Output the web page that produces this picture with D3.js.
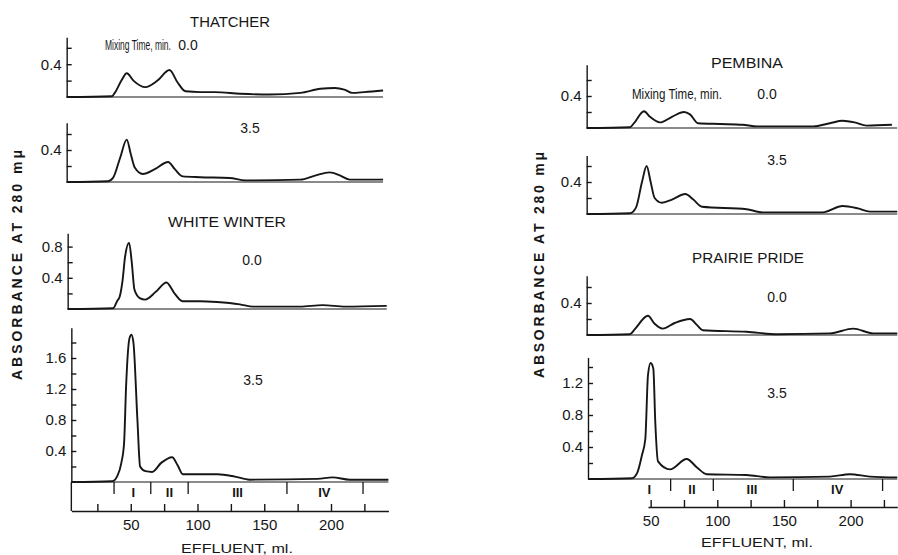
<!DOCTYPE html>
<html>
<head>
<meta charset="utf-8">
<script src="https://cdn.jsdelivr.net/npm/d3@7/dist/d3.min.js"></script>
<style>
  body { margin: 0; background: #fff; }
  svg text { font-family: "Liberation Sans", Arial, sans-serif; fill: #161616; }
</style>
</head>
<body>
<div id="chart"></div>
<script>

// absorbance curves: [effluent ml, absorbance]
var thatcher00 = [[5,0],[39,0.01],[41,0.05],[46,0.2],[50,0.29],[55,0.2],[64,0.12],[73,0.2],[82,0.33],
    [88,0.18],[94,0.07],[105,0.06],[116,0.06],[135,0.04],[157,0.03],[180,0.05],[195,0.1],[206,0.11],
    [213,0.09],[219,0.05],[228,0.06],[242,0.08]];
var thatcher35 = [[5,0],[36,0.01],[40,0.06],[45,0.3],[50,0.53],[53,0.35],[56,0.18],[62,0.1],[71,0.16],
    [81,0.25],[86,0.16],[92,0.07],[105,0.06],[127,0.05],[139,0.02],[180,0.03],[191,0.08],[202,0.12],
    [210,0.08],[217,0.03],[242,0.03]];
var whiteWinter00 = [[5,0],[39,0.01],[42,0.1],[44,0.16],[46,0.35],[48,0.67],[51,0.85],[53,0.6],[55,0.25],
    [59,0.14],[63,0.12],[71,0.22],[79,0.34],[85,0.2],[91,0.1],[104,0.1],[117,0.09],[134,0.06],[144,0.03],
    [179,0.03],[196,0.05],[213,0.03],[244,0.04]];
var whiteWinter35 = [[5.5,0],[36,0.01],[40,0.08],[43,0.25],[45,0.5],[46.5,1.23],[49,1.85],[50.5,1.9],[52,1.8],
    [55,0.8],[57,0.2],[61,0.14],[66,0.13],[73,0.25],[81,0.32],[85,0.22],[89,0.1],[115,0.1],[128,0.07],
    [139,0.03],[190,0.04],[201,0.06],[214,0.03],[243,0.03]];
var pembina00 = [[2,0],[34.5,0.01],[37.5,0.06],[45,0.21],[49.5,0.14],[57,0.07],[66,0.14],[75,0.2],[79.5,0.17],
    [85.5,0.06],[102,0.05],[119,0.04],[130,0.02],[172,0.02],[184.5,0.06],[194,0.09],[203,0.07],[212,0.03],
    [231,0.04]];
var pembina35 = [[2,0],[34.5,0.01],[39,0.08],[43.5,0.4],[47,0.6],[50,0.4],[53,0.2],[58.5,0.14],[66,0.18],
    [76,0.25],[82,0.18],[88.5,0.09],[122,0.06],[134,0.02],[179,0.02],[194,0.1],[205.5,0.07],[214.5,0.03],
    [235,0.03]];
var prairie00 = [[2,0],[34.5,0.01],[38,0.07],[48,0.24],[53,0.14],[59,0.08],[68,0.15],[79.5,0.2],[85,0.12],
    [89,0.06],[122,0.04],[145,0.01],[184.5,0.02],[202,0.08],[217,0.02],[235,0.02]];
var prairie35 = [[3,0],[36,0.01],[40,0.08],[43.5,0.3],[46,0.5],[48,1.3],[50,1.45],[52,1.38],[53.5,0.7],
    [55.5,0.22],[64.5,0.12],[77,0.25],[85,0.14],[92,0.06],[122,0.05],[139.5,0.02],[184.5,0.03],
    [199.5,0.06],[214.5,0.03],[235,0.02]];

// axis ticks
var effluentTicksLeft = [25, 50, 75, 100, 125, 150, 175, 200, 225];
var effluentTicksRight = [50, 75, 100, 125, 150, 175, 200, 225];
var effluentLabels = [50, 100, 150, 200];

// fraction cuts and labels
var fractionNames = ["I", "II", "III", "IV"];
var fractionCutsLeft = [37.5, 65, 93, 167, 224];
var fractionMidsLeft = [52, 79, 130, 195];
var fractionCutsRight = [65, 97, 157, 224];
var fractionMidsRight = [49, 81, 126, 190];

var W = 898, H = 555;

var svg = d3.select("#chart").append("svg")
    .attr("width", W)
    .attr("height", H);

svg.append("rect").attr("width", W).attr("height", H).attr("fill", "#fff");

// x scales, ml -> px
var xLeft = d3.scaleLinear().domain([0, 250]).range([64, 64 + 1.335 * 250]);
var xRight = d3.scaleLinear().domain([0, 250]).range([584, 584 + 1.333 * 250]);

var ink = "#161616";

// each panel: curve, which x scale, horizontal shift, baseline, px per unit, top of axis
var panels = [
    { data: thatcher00, x: xLeft, dx: -4, base: 97, ppu: 82, top: 0.73, major: [0.4], minor: [0.2, 0.6], from: 5, to: 242 },
    { data: thatcher35, x: xLeft, dx: -4, base: 182, ppu: 80, top: 0.74, major: [0.4], minor: [0.2, 0.6], from: 5, to: 242 },
    { data: whiteWinter00, x: xLeft, dx: -3, base: 309, ppu: 78, top: 0.97, major: [0.4, 0.8], minor: [0.2, 0.6], from: 5, to: 244 },
    { data: whiteWinter35, x: xLeft, dx: 0, base: 482, ppu: 77.5, top: 1.99, major: [0.4, 0.8, 1.2, 1.6], minor: [0.2, 0.6, 1.0, 1.4, 1.8], from: 5.5, to: 243 },
    { data: pembina00, x: xRight, dx: 0, base: 128, ppu: 80, top: 0.79, major: [0.4], minor: [0.2, 0.6], from: 2, to: 235 },
    { data: pembina35, x: xRight, dx: 0, base: 214, ppu: 80, top: 0.73, major: [0.4], minor: [0.2, 0.6], from: 2, to: 235 },
    { data: prairie00, x: xRight, dx: 0, base: 335, ppu: 80, top: 0.74, major: [0.4], minor: [0.2, 0.6], from: 2, to: 235 },
    { data: prairie35, x: xRight, dx: 0, base: 479, ppu: 80, top: 1.52, major: [0.4, 0.8, 1.2], minor: [0.2, 0.6, 1.0, 1.4], from: 3, to: 235 }
];

panels.forEach(function(p) {
    var g = svg.append("g").attr("transform", "translate(" + p.dx + ",0)");
    var x = p.x;
    var y = d3.scaleLinear()
        .domain([0, p.top])
        .range([p.base, p.base - p.top * p.ppu]);

    // baseline under the trace
    g.append("line")
        .attr("x1", x(p.from)).attr("x2", x(p.to))
        .attr("y1", y(0)).attr("y2", y(0))
        .attr("stroke", ink).attr("stroke-width", 1.2);

    var yAxis = d3.axisLeft(y)
        .tickValues(p.major.concat(p.minor))
        .tickSize(-5)
        .tickSizeOuter(0)
        .tickPadding(5)
        .tickFormat(function(d) { return p.major.indexOf(d) >= 0 ? d3.format(".1f")(d) : ""; });

    var ya = g.append("g")
        .attr("transform", "translate(" + x(p.from) + ",0)")
        .call(yAxis);
    ya.selectAll("path, line").attr("stroke", ink).attr("stroke-width", 1.4);
    ya.selectAll("text")
        .attr("font-size", 15)
        .attr("font-family", "Liberation Sans, Arial, sans-serif")
        .attr("fill", ink);

    var line = d3.line()
        .x(function(d) { return x(d[0]); })
        .y(function(d) { return y(d[1]); })
        .curve(d3.curveMonotoneX);

    g.append("path")
        .datum(p.data)
        .attr("d", line)
        .attr("fill", "none")
        .attr("stroke", ink)
        .attr("stroke-width", 1.9)
        .attr("stroke-linejoin", "round");
});

// effluent axes
function effluentAxis(x, ticks, y, from, to) {
    var sub = x.copy().domain([from, to]).range([x(from), x(to)]);
    var axis = d3.axisBottom(sub)
        .tickValues(ticks)
        .tickSize(-7)
        .tickSizeOuter(0)
        .tickPadding(8)
        .tickFormat(function(d) { return effluentLabels.indexOf(d) >= 0 ? d : ""; });
    var ga = svg.append("g")
        .attr("transform", "translate(0," + y + ")")
        .call(axis);
    ga.selectAll("path, line").attr("stroke", ink).attr("stroke-width", 1.4);
    ga.selectAll("text")
        .attr("font-size", 15)
        .attr("font-family", "Liberation Sans, Arial, sans-serif")
        .attr("fill", ink);
    return ga;
}

effluentAxis(xLeft, effluentTicksLeft, 511, 5.5, 243);
effluentAxis(xRight, effluentTicksRight, 507, 48, 235);

// left vertical bar joining baseline and effluent axis
svg.append("line")
    .attr("x1", xLeft(5.5)).attr("x2", xLeft(5.5))
    .attr("y1", 482).attr("y2", 511)
    .attr("stroke", ink).attr("stroke-width", 1.4);

// fraction marks
function fractions(x, cuts, mids, base, len, labelY) {
    svg.selectAll(null)
        .data(cuts)
        .enter().append("line")
        .attr("x1", function(d) { return x(d); })
        .attr("x2", function(d) { return x(d); })
        .attr("y1", base).attr("y2", base + len)
        .attr("stroke", ink).attr("stroke-width", 1.3);
    svg.selectAll(null)
        .data(mids)
        .enter().append("text")
        .attr("x", function(d) { return x(d); })
        .attr("y", labelY)
        .attr("text-anchor", "middle")
        .attr("font-size", 13)
        .attr("font-weight", "bold")
        .text(function(d, i) { return fractionNames[i]; });
}
fractions(xLeft, fractionCutsLeft, fractionMidsLeft, 482, 12, 497);
fractions(xRight, fractionCutsRight, fractionMidsRight, 479, 12, 494);

// text labels; len squeezes/stretches the text horizontally to that width
function label(txt, x, y, size, len, anchor, family) {
    var t = svg.append("text")
        .attr("font-size", size)
        .attr("text-anchor", anchor || "middle")
        .text(txt);
    if (family) t.style("font-family", family);
    var sx = 1;
    if (len) sx = len / t.node().getComputedTextLength();
    t.attr("transform", "translate(" + x + "," + y + ") scale(" + sx + ",1)");
    return t;
}

var narrow = "'Liberation Sans Narrow', 'Arial Narrow', 'Liberation Sans', Arial, sans-serif";

label("THATCHER", 230, 27, 14, 80);
label("Mixing Time, min.", 105, 50, 14, 66, "start", narrow);
label("0.0", 188, 50, 14);
label("3.5", 250, 133, 14);
label("WHITE WINTER", 227, 227, 14, 118);
label("0.0", 252, 265, 14);
label("3.5", 253, 385, 14);
label("EFFLUENT, ml.", 237, 553, 13, 112);

label("PEMBINA", 747, 68, 14, 72);
label("Mixing Time, min.", 632, 99, 15, 90, "start", narrow);
label("0.0", 767, 99, 14);
label("3.5", 777, 165, 14);
label("PRAIRIE PRIDE", 748, 263, 14, 112);
label("0.0", 777, 302, 14);
label("3.5", 777, 398, 14);
label("EFFLUENT, ml.", 757, 547, 13, 112);

// y titles
svg.append("text")
    .attr("transform", "translate(22,265) rotate(-90)")
    .attr("text-anchor", "middle")
    .attr("font-size", 14)
    .attr("font-weight", "bold")
    .attr("textLength", 230)
    .attr("lengthAdjust", "spacing")
    .text("ABSORBANCE  AT  280 m\u03bc");

svg.append("text")
    .attr("transform", "translate(544,265) rotate(-90)")
    .attr("text-anchor", "middle")
    .attr("font-size", 14)
    .attr("font-weight", "bold")
    .attr("textLength", 226)
    .attr("lengthAdjust", "spacing")
    .text("ABSORBANCE  AT  280 m\u03bc");

</script>
</body>
</html>
